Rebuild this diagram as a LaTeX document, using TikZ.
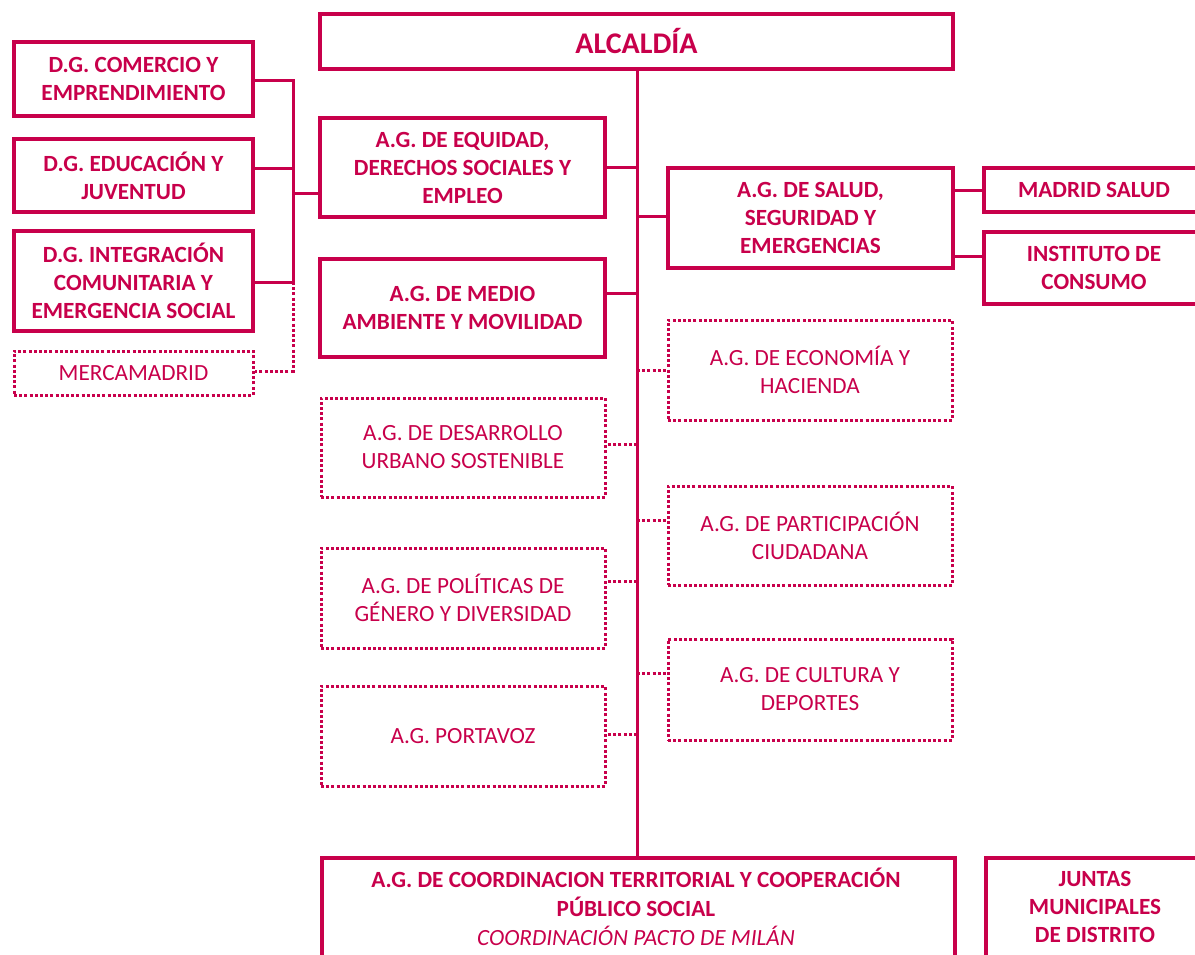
\documentclass[tikz,border=0pt]{standalone}
\usepackage{fontspec}
\setmainfont{Carlito}
\definecolor{crim}{RGB}{200,0,75}
\tikzset{
  x=1pt,y=-1pt,
  box/.style={draw=crim, line width=3.5pt, text=crim, align=center, inner sep=0pt, font=\fontsize{23.2}{28}\selectfont\bfseries},
  dbox/.style={draw=crim, line width=3pt, dash pattern=on 3pt off 2.2pt, text=crim, align=center, inner sep=0pt, font=\fontsize{23.2}{28}\selectfont},
  lbl/.style={text=crim, align=center, inner sep=0pt, font=\fontsize{23.2}{28}\selectfont\bfseries},
  conn/.style={draw=crim, line width=3pt},
  dconn/.style={draw=crim, line width=3pt, dash pattern=on 3pt off 2.2pt},
}
\newcommand{\bx}[7]{\node[#1, minimum width=#4-#2, minimum height=#5-#3] (#6) at ({(#2+#4)/2},{(#3+#5)/2}) {#7};}
\begin{document}
\begin{tikzpicture}
\clip (0,0) rectangle (1195,954);
\fill[white] (0,0) rectangle (1195,954);
% top
\bx{box, font=\fontsize{30}{34}\selectfont\bfseries}{320}{14}{953}{69}{alc}{ALCALDÍA}
% left column
\bx{box}{14}{42}{253}{116}{com}{D.G. COMERCIO Y\\EMPRENDIMIENTO}
\bx{box}{14}{139}{253}{212}{edu}{D.G. EDUCACIÓN Y\\JUVENTUD}
\bx{box}{14}{231}{253}{331}{int}{D.G. INTEGRACIÓN\\COMUNITARIA Y\\EMERGENCIA SOCIAL}
\bx{dbox}{14}{351}{253}{395}{mer}{MERCAMADRID}
% middle-left column
\bx{box}{320}{118}{605}{217}{equ}{A.G. DE EQUIDAD,\\DERECHOS SOCIALES Y\\EMPLEO}
\bx{box}{320}{259}{605}{357}{med}{A.G. DE MEDIO\\AMBIENTE Y MOVILIDAD}
\bx{dbox}{321}{398}{605}{497}{des}{A.G. DE DESARROLLO\\URBANO SOSTENIBLE}
\bx{dbox}{321}{548}{605}{648}{pol}{A.G. DE POLÍTICAS DE\\GÉNERO Y DIVERSIDAD}
\bx{dbox}{321}{686}{605}{786}{por}{A.G. PORTAVOZ}
% middle-right column
\bx{box}{668}{168}{953}{268}{sal}{A.G. DE SALUD,\\SEGURIDAD Y\\EMERGENCIAS}
\bx{dbox}{668}{320}{952}{420}{eco}{A.G. DE ECONOMÍA Y\\HACIENDA}
\bx{dbox}{668}{486}{952}{585}{par}{A.G. DE PARTICIPACIÓN\\CIUDADANA}
\bx{dbox}{668}{639}{952}{740}{cul}{A.G. DE CULTURA Y\\DEPORTES}
% right column
\bx{box}{984}{168}{1214}{212}{mad}{}
\node[lbl] at (1094,190) {MADRID SALUD};
\bx{box}{984}{232}{1214}{304}{ins}{}
\node[lbl] at (1094,268) {INSTITUTO DE\\CONSUMO};
% bottom
\node[box, minimum width=633, minimum height=140, anchor=north west] (coo) at (320,856) {};
\node[lbl, anchor=north, font=\fontsize{23.2}{29}\selectfont] at (636,868) {\textbf{A.G. DE COORDINACION TERRITORIAL Y COOPERACIÓN}\\\textbf{PÚBLICO SOCIAL}\\\textit{COORDINACIÓN PACTO DE MILÁN}};
\node[box, minimum width=230, minimum height=140, anchor=north west] (jun) at (984,856) {};
\node[lbl, anchor=north] at (1095,871) {JUNTAS\\MUNICIPALES\\DE DISTRITO};
% trunk
\coordinate (ttop) at (637,69);
\coordinate (tbot) at (637,856);
\draw[conn] (alc.south -| ttop) -- (coo.north -| tbot);
% trunk connectors
\coordinate (tequ) at (637,167);
\coordinate (tsal) at (637,216);
\coordinate (tmed) at (637,293);
\coordinate (teco) at (637,370);
\coordinate (tdes) at (637,444);
\coordinate (tpar) at (637,520);
\coordinate (tpol) at (637,581);
\coordinate (tcul) at (637,673);
\coordinate (tpor) at (637,734);
\draw[conn] (tequ) -- (tequ -| equ.east);
\draw[conn] (tsal) -- (tsal -| sal.west);
\draw[conn] (tmed) -- (tmed -| med.east);
\draw[dconn] (teco) -- (teco -| eco.west);
\draw[dconn] (tdes) -- (tdes -| des.east);
\draw[dconn] (tpar) -- (tpar -| par.west);
\draw[dconn] (tpol) -- (tpol -| pol.east);
\draw[dconn] (tcul) -- (tcul -| cul.west);
\draw[dconn] (tpor) -- (tpor -| por.east);
% left bus
\coordinate (b1) at (293,80);
\coordinate (b2) at (293,168);
\coordinate (b3) at (293,282);
\coordinate (b4) at (293,371);
\coordinate (be) at (293,193);
\draw[conn] (com.east |- b1) -- (b1) -- (b3) -- (b3 -| int.east);
\draw[conn] (edu.east |- b2) -- (b2);
\draw[conn] (be) -- (be -| equ.west);
\draw[dconn] (b3) -- (b4) -- (b4 -| mer.east);
% salud to right
\coordinate (s1) at (968,190);
\coordinate (s2) at (968,256);
\draw[conn] (s1 -| sal.east) -- (s1 -| mad.west);
\draw[conn] (s2 -| sal.east) -- (s2 -| ins.west);
\end{tikzpicture}
\end{document}
